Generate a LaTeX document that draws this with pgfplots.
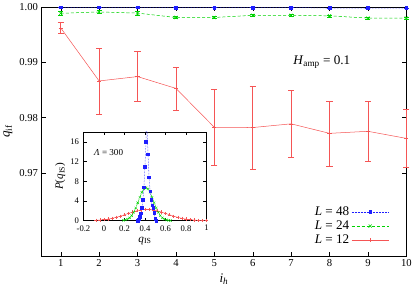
\documentclass[border=0pt]{standalone}
\usepackage{fontspec}
\setmainfont{Liberation Serif}
\usepackage{pgfplots}
\pgfplotsset{compat=1.18}
\definecolor{cred}{RGB}{245,85,85}
\definecolor{cgreen}{RGB}{0,210,0}
\definecolor{cblue}{RGB}{30,30,255}
\begin{document}
\begin{tikzpicture}
\begin{axis}[
  name=main,
  scale only axis, width=359bp, height=245bp,
  xmin=0.5, xmax=10, ymin=0.955, ymax=1.0,
  xtick={1,...,10}, ytick={0.97,0.98,0.99,1.00},
  yticklabel style={/pgf/number format/.cd, fixed, fixed zerofill, precision=2},
  /pgf/number format/assume math mode=true,
  tick label style={font=\fontsize{10.5}{12}\selectfont},
  label style={font=\fontsize{13}{15}\selectfont},
  tick align=inside, major tick length=4bp,
  tick style={black, line width=0.4pt},
  clip=false,
  xlabel={\textit{i}\textsubscript{\textit{h}}},
  ylabel={\textit{q}\textsubscript{if}},
  legend plot pos=right,
  legend cell align=right,
  legend style={draw=none, fill=none, at={(0.962,0.025)}, anchor=south east,
    font=\fontsize{13}{15}\selectfont, row sep=0pt},
  legend image code/.code={\draw[mark repeat=2,mark phase=2] plot coordinates {(0cm,0cm) (0.65cm,0cm) (1.3cm,0cm)};},
]
\addplot+[cblue, densely dotted, line width=0.5pt, mark=square*, mark size=1.4bp,
  mark options={solid, fill=cblue},
  error bars/.cd, y dir=both, y explicit,
  error bar style={solid, line width=0.4pt},
  error mark options={rotate=90, mark size=2.5bp, solid}]
coordinates {
(1,0.99995) +- (0,0.00005)
(2,0.99995) +- (0,0.00005)
(3,0.99995) +- (0,0.00005)
(4,0.99993) +- (0,0.00005)
(5,0.99993) +- (0,0.00005)
(6,0.99993) +- (0,0.00005)
(7,0.99993) +- (0,0.00005)
(8,0.99980) +- (0,0.00005)
(9,0.99980) +- (0,0.00005)
(10,0.99980) +- (0,0.00005)
};
\addlegendentry{\textit{L} = 48}
\addplot+[cgreen, densely dashed, line width=0.5pt, mark=x, mark size=2.2bp,
  mark options={solid},
  error bars/.cd, y dir=both, y explicit,
  error bar style={solid, line width=0.4pt},
  error mark options={rotate=90, mark size=2.5bp, solid}]
coordinates {
(1,0.99886) +- (0,0.0003)
(2,0.99910) +- (0,0.0003)
(3,0.99890) +- (0,0.0003)
(4,0.99810) +- (0,0.0002)
(5,0.99810) +- (0,0.0002)
(6,0.99850) +- (0,0.0002)
(7,0.99850) +- (0,0.0002)
(8,0.99840) +- (0,0.0002)
(9,0.99800) +- (0,0.0002)
(10,0.99800) +- (0,0.0002)
};
\addlegendentry{\textit{L} = 24}
\addplot+[cred, solid, line width=0.5pt, mark=+, mark size=2bp,
  error bars/.cd, y dir=both, y explicit,
  error bar style={solid, line width=0.5pt},
  error mark options={rotate=90, mark size=3bp, solid}]
coordinates {
(1,0.99623) +- (0,0.0010)
(2,0.98663) +- (0,0.0060)
(3,0.98742) +- (0,0.0045)
(4,0.98529) +- (0,0.0039)
(5,0.97826) +- (0,0.0068)
(6,0.97821) +- (0,0.0075)
(7,0.97888) +- (0,0.0060)
(8,0.97716) +- (0,0.0059)
(9,0.97753) +- (0,0.0054)
(10,0.97625) +- (0,0.0052)
};
\addlegendentry{\textit{L} = 12}
\node[font=\fontsize{13}{15}\selectfont] at (axis cs:7.8,0.9900) {\textit{H}\textsubscript{amp} = 0.1};
\end{axis}
\begin{axis}[
  at={(41.3bp,34.7bp)}, anchor=south west,
  scale only axis, width=121bp, height=87.3bp,
  xmin=-0.2, xmax=1, ymin=0, ymax=18,
  xtick={-0.2,0,0.2,0.4,0.6,0.8,1}, ytick={0,4,8,12,16},
  /pgf/number format/assume math mode=true,
  tick label style={font=\fontsize{8.5}{10}\selectfont},
  xticklabel style={yshift=-1bp},
  yticklabel style={xshift=-1bp},
  label style={font=\fontsize{11}{13}\selectfont},
  tick align=inside, major tick length=3bp,
  tick style={black, line width=0.4pt},
  axis background/.style={fill=white},
  xlabel={\textit{q}\textsubscript{IS}},
  ylabel={\textit{P}(\textit{q}\textsubscript{IS})},
  xlabel style={yshift=1bp},
  ylabel style={yshift=-2bp},
]
\addplot[cred, solid, line width=0.4pt, mark=+, mark size=1.6bp] coordinates {
(-0.08,0.08) (-0.04,0.13) (0.00,0.21) (0.04,0.33) (0.08,0.48) (0.12,0.68)
(0.16,0.92) (0.20,1.20) (0.24,1.48) (0.28,1.76) (0.32,2.01) (0.36,2.19)
(0.40,2.29) (0.44,2.29) (0.48,2.19) (0.52,2.01) (0.56,1.76) (0.60,1.48)
(0.64,1.20) (0.68,0.92) (0.72,0.68) (0.76,0.48) (0.80,0.33) (0.84,0.21)
(0.88,0.13) (0.92,0.08) (0.96,0.05) (1.00,0.03)
};
\addplot[cgreen, densely dashed, line width=0.4pt, mark=x, mark size=1.6bp, mark options={solid}] coordinates {
(0.19,0.07) (0.21,0.15) (0.23,0.31) (0.25,0.58) (0.27,1.03) (0.29,1.70)
(0.31,2.59) (0.33,3.64) (0.35,4.75) (0.37,5.75) (0.39,6.45) (0.41,6.70)
(0.43,6.45) (0.45,5.75) (0.47,4.75) (0.49,3.64) (0.51,2.59) (0.53,1.70)
(0.55,1.03) (0.57,0.58) (0.59,0.31) (0.61,0.15) (0.63,0.07) (0.65,0.03)
};
\addplot[cblue, densely dotted, line width=0.5pt, mark=square*, mark size=1.3bp, mark options={solid, fill=cblue}] coordinates {
(0.33,0.05) (0.34,0.3) (0.35,0.8) (0.36,1.5) (0.37,2.6) (0.38,4.2)
(0.39,6.8) (0.40,11.0) (0.41,16.0) (0.415,20.0) (0.42,19.0) (0.43,13.5)
(0.44,8.8) (0.45,6.0) (0.46,4.2) (0.47,3.1) (0.48,2.6) (0.49,1.6)
(0.50,0.4) (0.51,0.05)
};
\node[anchor=west, font=\fontsize{9}{11}\selectfont] at (axis cs:-0.13,13.9) {\textit{Λ} = 300};
\end{axis}
\end{tikzpicture}
\end{document}
